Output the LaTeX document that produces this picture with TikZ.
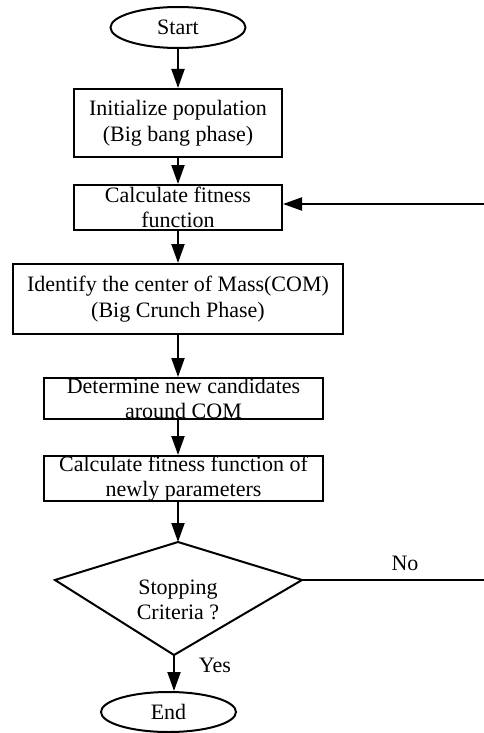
\documentclass[tikz,border=0pt]{standalone}
\usepackage{fontspec}
\setmainfont{Liberation Serif}
\usetikzlibrary{arrows.meta,shapes.geometric}
\begin{document}
\begin{tikzpicture}[x=1pt,y=-1pt,
  every node/.style={font=\fontsize{22}{25.5}\selectfont},
  term/.style={draw,ellipse,line width=2pt,minimum width=135pt,minimum height=41pt,inner sep=0pt},
  procbox/.style={draw,rectangle,line width=2pt,inner sep=0pt},
  txt/.style={align=center,inner sep=0pt},
  conn/.style={line width=2pt,-{Triangle[length=19pt,width=13pt]}},
  plainline/.style={line width=2pt}
]
\useasboundingbox (0,0) rectangle (483,733);
\node[term] (start) at (178,27.5) {Start};
\node[procbox,minimum width=208pt,minimum height=68pt] (b1) at (178,123) {};
\node[txt] (t1) at (b1.center) {Initialize population\\(Big bang phase)};
\node[procbox,minimum width=208pt,minimum height=45pt] (b2) at (178,207.5) {};
\node[txt] (t2) at (b2.center) {Calculate fitness\\function};
\node[procbox,minimum width=330pt,minimum height=70pt] (b3) at (178,299) {};
\node[txt] (t3) at (b3.center) {Identify the center of Mass(COM)\\(Big Crunch Phase)};
\node[procbox,minimum width=279pt,minimum height=41pt] (b4) at (183.5,398.5) {};
\node[txt] (t4) at (b4.center) {Determine new candidates\\around COM};
\node[procbox,minimum width=279pt,minimum height=45pt] (b5) at (183.5,478.5) {};
\node[txt] (t5) at (b5.center) {Calculate fitness function of\\newly parameters};
\coordinate (dt) at (178,542);
\coordinate (dr) at (302,580);
\coordinate (db) at (174,655);
\coordinate (dl) at (55,580);
\draw[plainline,line join=miter] (dt) -- (dr) -- (db) -- (dl) -- cycle;
\node[txt] (td) at (178,600) {Stopping\\Criteria ?};
\node[term,minimum height=40pt] (end) at (168.5,712) {End};
\coordinate (rb) at (490,580);
\coordinate (rt) at (490,204);
\draw[conn] (start) -- (b1);
\draw[conn] (b1) -- (b2);
\draw[conn] (b2) -- (b3);
\draw[conn] (b3.south) -- (b3.south |- b4.north);
\draw[conn] (b3.south |- b4.south) -- (b3.south |- b5.north);
\draw[conn] (b3.south |- b5.south) -- (dt);
\draw[conn] (db) -- (db |- end.north);
\draw[conn] (dr) -- (rb) -- (rt) -- (b2.east |- rt);
\node (no) at (405,563) {No};
\node (yes) at (215,665) {Yes};
\end{tikzpicture}
\end{document}
